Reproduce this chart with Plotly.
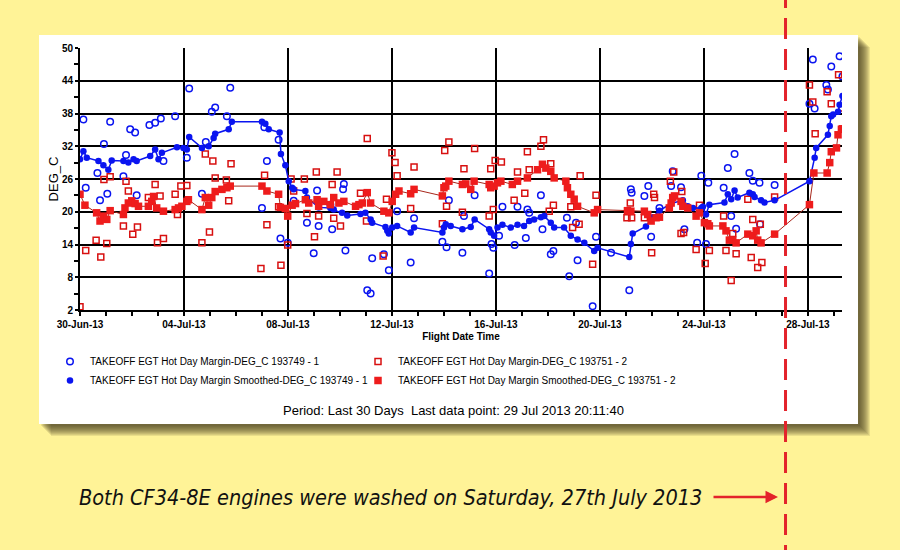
import pandas as pd
import plotly.graph_objects as go

# ---------------- data ----------------
# x values are days after 30-Jun-2013 00:00
base_date = "2013-06-30"
wash_day = 27.14  # engines washed (27 Jul 2013)

blue_raw_day = [0.13, 0.22, 0.67, 0.77, 0.92, 1.05, 1.16, 1.67, 1.77, 1.93, 2.12, 2.18, 2.67, 2.89, 3.11, 3.21,
                3.66, 4.11, 4.20, 4.69, 4.84, 5.07, 5.20, 5.65, 5.78, 7.00, 7.09, 7.19, 7.64, 7.71, 7.99, 8.22,
                8.73, 8.99, 9.12, 9.18, 9.63, 9.70, 10.12, 10.15, 10.21, 11.05, 11.18, 11.24, 11.69, 11.88, 12.20,
                12.72, 12.85, 13.94, 14.10, 14.19, 14.71, 14.77, 15.18, 15.74, 15.83, 15.90, 16.12, 16.25, 16.72,
                16.83, 17.15, 17.21, 17.28, 17.73, 17.79, 18.11, 18.21, 18.73, 18.82, 19.08, 19.14, 19.72, 19.85,
                20.43, 21.13, 21.19, 21.22, 21.71, 21.86, 21.97, 22.29, 22.74, 22.80, 23.12, 23.25, 23.74, 23.90,
                24.08, 24.17, 24.76, 24.92, 25.05, 25.18, 25.24, 25.75, 25.88, 26.14, 26.16, 26.72, 28.06, 28.19,
                28.26, 28.71, 28.77, 28.90, 29.22, 29.33]
blue_raw_val = [36.9, 24.4, 27.1, 22.1, 32.4, 23.3, 36.5, 26.5, 30.4, 35.1, 34.5, 23.0, 35.9, 36.3, 37.1, 29.3,
                37.5, 29.9, 42.6, 23.3, 32.8, 38.3, 39.1, 37.5, 42.7, 20.7, 35.5, 29.3, 33.2, 15.1, 14.3, 22.0,
                18.0, 12.4, 23.9, 17.4, 21.3, 16.8, 24.1, 25.1, 12.9, 5.6, 5.0, 11.5, 12.2, 9.3, 20.1,
                10.7, 18.8, 14.5, 13.5, 22.1, 12.5, 19.2, 23.0, 8.7, 14.1, 13.4, 15.6, 20.9, 13.9,
                20.9, 15.2, 20.4, 19.8, 23.0, 16.8, 12.2, 12.8, 18.9, 8.2, 18.0, 11.1, 2.7, 15.4,
                12.5, 5.6, 24.1, 23.5, 22.9, 24.7, 15.4, 20.7, 24.7, 27.4, 24.5, 16.8, 14.3, 26.6,
                14.1, 25.3, 24.4, 28.0, 19.2, 30.6, 16.9, 27.1, 25.7, 25.3, 17.7, 24.9, 39.8, 47.9,
                38.9, 43.2, 42.4, 46.6, 48.5, 44.8]

red_raw_day = [0.00, 0.22, 0.62, 0.80, 0.92, 1.03, 1.16, 1.67, 1.77, 1.86, 2.03, 2.21, 2.63, 2.89, 2.98, 3.08,
               3.21, 3.66, 3.75, 3.88, 4.11, 4.69, 4.82, 4.98, 5.11, 5.20, 5.63, 5.72, 5.81, 6.96, 7.10, 7.19,
               7.64, 7.73, 7.99, 8.12, 8.22, 8.63, 8.73, 9.02, 9.09, 9.18, 9.70, 9.76, 9.89, 10.02, 10.79, 11.02,
               11.05, 11.66, 11.79, 12.00, 12.12, 12.20, 12.72, 12.85, 13.94, 14.03, 14.10, 14.19, 14.71, 14.77,
               15.18, 15.74, 15.80, 15.90, 15.97, 16.21, 16.70, 16.83, 17.11, 17.21, 17.28, 17.73, 17.83, 18.05,
               18.11, 18.21, 18.88, 18.95, 19.20, 19.24, 19.72, 19.85, 21.04, 21.17, 21.22, 21.71, 21.99, 22.07,
               22.10, 22.71, 22.84, 23.12, 23.15, 23.22, 23.70, 23.83, 24.05, 24.21, 24.76, 24.85, 25.05, 25.11,
               25.24, 25.69, 25.82, 25.88, 26.07, 26.17, 26.23, 26.72, 28.06, 28.19, 28.28, 28.74, 28.90, 29.18,
               29.31]
red_raw_val = [2.6, 12.9, 14.8, 11.7, 25.9, 14.2, 26.4, 17.4, 25.6, 23.8, 15.9, 17.2, 22.6, 25.0, 14.3, 22.9,
               15.1, 23.2, 19.5, 24.7, 24.8, 14.3, 30.6, 16.3, 29.3, 26.2, 25.8, 22.0, 28.8, 9.6, 26.7, 17.6,
               20.9, 10.2, 13.9, 26.0, 23.8, 26.0, 19.7, 15.4, 27.3, 19.2, 25.0, 18.8, 27.3, 17.4, 23.4, 18.3,
               33.4, 11.9, 22.3, 30.8, 29.0, 26.6, 20.6, 28.2, 17.8, 31.2, 21.0, 32.8, 19.9, 27.9,
               31.6, 19.2, 27.9, 20.4, 29.4, 29.1, 22.1, 27.3, 23.4, 31.0, 27.7, 32.0, 33.2, 20.1,
               28.8, 21.2, 20.9, 17.1, 17.7, 26.6, 10.4, 23.0, 18.9, 21.6, 18.9, 18.9, 12.5, 23.2,
               22.6, 25.6, 27.3, 16.0, 23.7, 16.2, 13.1, 21.2, 10.5, 12.9, 19.2, 12.9, 7.4, 16.0,
               12.3, 22.3, 11.6, 18.6, 9.8, 17.7, 10.7, 22.7, 43.2, 40.1, 34.3, 42.0, 39.8, 45.1,
               39.0]

blue_smooth_day = [0.00, 0.13, 0.26, 0.71, 0.90, 1.09, 1.22, 1.67, 1.86, 2.06, 2.18, 2.70, 2.89, 3.02, 3.15, 3.73,
                   3.98, 4.11, 4.20, 4.69, 4.95, 5.14, 5.20, 5.72, 5.84, 7.00, 7.13, 7.26, 7.68, 7.73, 7.90, 8.03,
                   8.16, 8.22, 8.67, 8.73, 9.18, 9.63, 9.76, 10.08, 10.28, 10.79, 10.98, 11.18, 11.24, 11.75, 11.82,
                   11.88, 12.01, 12.20, 12.72, 12.85, 13.94, 14.00, 14.07, 14.26, 14.71, 15.03, 15.18, 15.74, 15.80,
                   15.93, 16.06, 16.25, 16.57, 16.83, 17.08, 17.28, 17.47, 17.73, 17.86, 18.11, 18.24, 18.62, 18.88,
                   19.14, 19.40, 19.78, 19.91, 21.13, 21.19, 21.26, 21.77, 22.03, 22.29, 22.74, 23.19, 23.38, 23.58,
                   23.90, 23.96, 24.08, 24.21, 24.79, 24.92, 25.05, 25.18, 25.30, 25.75, 25.88, 25.95, 26.20, 26.33,
                   26.72, 28.06, 28.26, 28.32, 28.77, 28.84, 28.90, 28.97, 29.16, 29.22, 29.33]
blue_smooth_val = [29.6, 31.1, 29.9, 29.3, 28.5, 27.7, 29.4, 29.3, 29.0, 29.6, 29.3, 30.2, 31.4, 29.6, 30.8, 31.8,
                   31.7, 31.4, 33.7, 31.7, 32.0, 33.5, 34.3, 35.1, 36.5, 36.5, 36.1, 35.1, 34.5, 30.6, 28.5, 25.6,
                   24.4, 24.1, 23.8, 22.6, 20.8, 20.7, 20.4, 19.8, 19.3, 19.6, 19.8, 18.6, 18.0, 17.2, 16.5,
                   16.0, 17.1, 17.4, 16.2, 17.1, 16.2, 17.1, 17.7, 17.4, 16.8, 17.2, 18.6, 16.8, 16.2,
                   15.6, 17.1, 17.6, 17.1, 17.6, 17.4, 18.3, 18.6, 19.0, 19.2, 18.0, 17.1, 17.1, 15.6,
                   14.9, 14.3, 12.8, 13.4, 11.7, 14.1, 16.0, 17.3, 19.0, 20.2, 21.5, 22.1, 21.0, 20.7,
                   20.7, 20.9, 19.5, 21.3, 21.7, 23.2, 22.3, 23.9, 22.6, 23.5, 23.2, 22.7, 22.1, 21.7,
                   22.1, 25.6, 29.9, 31.7, 34.1, 35.7, 37.5, 37.8, 38.3, 39.6, 41.2]

red_smooth_day = [0.00, 0.19, 0.64, 0.77, 0.90, 1.03, 1.16, 1.67, 1.73, 1.86, 1.99, 2.12, 2.25, 2.63, 2.76, 2.83,
                  2.95, 3.21, 3.66, 3.79, 3.92, 4.11, 4.17, 4.69, 4.82, 4.95, 5.07, 5.20, 5.46, 5.65, 5.78, 7.00,
                  7.19, 7.64, 7.71, 7.90, 7.99, 8.16, 8.29, 8.67, 8.80, 9.12, 9.18, 9.38, 9.63, 9.76, 9.96, 10.15,
                  10.60, 10.73, 10.86, 11.05, 11.18, 11.69, 11.88, 12.01, 12.14, 12.27, 12.72, 12.85, 13.94, 14.00,
                  14.07, 14.19, 14.71, 14.84, 15.03, 15.16, 15.74, 15.80, 15.93, 16.06, 16.19, 16.63, 16.83, 17.21,
                  17.60, 17.79, 17.92, 18.11, 18.24, 18.69, 18.75, 18.88, 19.01, 19.14, 19.78, 19.91, 21.06, 21.19,
                  21.71, 21.84, 21.97, 22.16, 22.29, 22.67, 22.74, 22.80, 22.87, 23.12, 23.19, 23.38, 23.70, 23.83,
                  24.02, 24.15, 24.21, 24.73, 24.85, 24.98, 25.11, 25.24, 25.69, 25.88, 26.01, 26.07, 26.20, 26.72,
                  28.06, 28.23, 28.74, 28.84, 28.90, 29.10, 29.16, 29.29, 29.33]
red_smooth_val = [23.2, 21.2, 19.8, 18.3, 19.2, 18.6, 20.2, 19.5, 20.7, 21.6, 22.0, 21.5, 21.0, 21.0, 21.9, 22.8,
                  20.7, 20.1, 20.4, 20.7, 21.0, 21.9, 22.2, 20.4, 22.6, 21.2, 22.6, 23.7, 24.1, 24.4, 24.7, 24.7,
                  23.8, 23.2, 20.8, 20.6, 19.2, 21.2, 21.5, 22.2, 21.6, 22.2, 21.0, 21.9, 21.3, 22.6, 21.6, 21.9,
                  21.0, 21.3, 21.6, 23.5, 21.6, 20.1, 19.8, 21.9, 23.2, 23.8, 23.3, 24.1, 22.9, 24.4,
                  24.7, 25.6, 25.0, 25.1, 24.1, 25.6, 25.0, 24.4, 24.7, 25.3, 25.6, 25.0, 25.6, 26.2,
                  27.7, 28.7, 28.0, 27.4, 26.2, 25.6, 24.4, 23.2, 22.3, 21.0, 19.8, 20.4, 20.2, 20.1,
                  20.1, 19.5, 18.3, 18.9, 19.0, 20.7, 21.6, 22.6, 22.9, 21.9, 21.0, 20.7, 19.2, 19.8,
                  18.0, 17.8, 17.4, 17.4, 16.5, 14.8, 14.8, 14.3, 15.9, 15.6, 16.5, 14.8, 14.3, 15.9,
                  21.3, 27.1, 27.1, 29.0, 31.0, 31.7, 34.1, 35.1, 35.2]

name_blue_raw = "TAKEOFF EGT Hot Day Margin-DEG_C 193749 - 1"
name_red_raw = "TAKEOFF EGT Hot Day Margin-DEG_C 193751 - 2"
name_blue_smooth = "TAKEOFF EGT Hot Day Margin Smoothed-DEG_C 193749 - 1"
name_red_smooth = "TAKEOFF EGT Hot Day Margin Smoothed-DEG_C 193751 - 2"

y_ticks = [2, 8, 14, 20, 26, 32, 38, 44, 50]
y_minor_ticks = [5, 11, 17, 23, 29, 35, 41, 47]

# ---------------- helpers ----------------
t0 = pd.Timestamp(base_date)


def to_dt(days):
    return [t0 + pd.to_timedelta(d, unit="D") for d in days]


# plot area in pixels (900 x 550 page)
L, R, T, B = 80, 842, 48, 310


def fx(px):
    return (px - L) / (R - L)


def fy(py):
    return (B - py) / (B - T)


FONT = "Liberation Sans, Arial, sans-serif"
BLUE = "#0a14f0"
RED = "#ee1c1c"

fig = go.Figure()

fig.add_trace(go.Scatter(x=to_dt(blue_raw_day), y=blue_raw_val, mode="markers", name=name_blue_raw,
                         legend="legend",
                         marker=dict(symbol="circle-open", size=6.5, color=BLUE, line=dict(width=1.5))))
fig.add_trace(go.Scatter(x=to_dt(red_raw_day), y=red_raw_val, mode="markers", name=name_red_raw,
                         legend="legend2",
                         marker=dict(symbol="square-open", size=6, color="#d81010", line=dict(width=1.5))))
fig.add_trace(go.Scatter(x=to_dt(blue_smooth_day), y=blue_smooth_val, mode="lines", showlegend=False,
                         line=dict(color=BLUE, width=1.5), hoverinfo="skip"))
fig.add_trace(go.Scatter(x=to_dt(red_smooth_day), y=red_smooth_val, mode="lines", showlegend=False,
                         line=dict(color="#a8281c", width=1), hoverinfo="skip"))
fig.add_trace(go.Scatter(x=to_dt(blue_smooth_day), y=blue_smooth_val, mode="markers", name=name_blue_smooth,
                         legend="legend",
                         marker=dict(symbol="circle", size=6.5, color=BLUE)))
fig.add_trace(go.Scatter(x=to_dt(red_smooth_day), y=red_smooth_val, mode="markers", name=name_red_smooth,
                         legend="legend2",
                         marker=dict(symbol="square", size=7.5, color=RED)))

# ---------------- decorations ----------------
shapes = []
# card shadow (stacked translucent rectangles)
for o in range(2, 13):
    shapes.append(dict(type="rect", xref="paper", yref="paper", layer="below",
                       x0=fx(39 + o), x1=fx(858 + o), y0=fy(424 + o), y1=fy(35 + o),
                       fillcolor="rgba(60,55,25,0.11)", line=dict(width=0)))
# white card
shapes.append(dict(type="rect", xref="paper", yref="paper", layer="below",
                   x0=fx(39), x1=fx(858), y0=fy(424), y1=fy(35),
                   fillcolor="white", line=dict(width=0)))
# wash line
wash_ts = t0 + pd.to_timedelta(wash_day, unit="D")
shapes.append(dict(type="line", xref="x", yref="paper", layer="above",
                   x0=wash_ts, x1=wash_ts, y0=fy(-13), y1=fy(552),
                   line=dict(color="#e3232b", width=3, dash="21px,10px")))

annotations = [
    dict(text="Period: Last 30 Days\u00a0\u00a0Last data point: 29 Jul 2013 20:11:40",
         xref="paper", yref="paper", x=fx(453), y=fy(410), xanchor="center", yanchor="middle",
         showarrow=False, font=dict(family=FONT, size=13, color="black")),
    dict(text="Both CF34-8E engines were washed on Saturday, 27th July 2013",
         xref="paper", yref="paper", x=fx(77), y=fy(497), xanchor="left", yanchor="middle", showarrow=False,
         font=dict(family="Liberation Sans Narrow, DejaVu Sans Condensed, Arial Narrow, sans-serif",
                   size=21.5, color="#111111", style="italic")),
    dict(text="", xref="paper", yref="paper", x=fx(778), y=fy(497), ax=-66, ay=0, showarrow=True,
         arrowhead=2, arrowsize=1, arrowwidth=2.5, arrowcolor="#e3232b"),
]

legend_common = dict(orientation="v", xanchor="left", yanchor="top", bgcolor="rgba(0,0,0,0)",
                     font=dict(family=FONT, size=10, color="black"), tracegroupgap=0)

fig.update_layout(
    width=900, height=550, autosize=False,
    margin=dict(l=L, r=900 - R, t=T, b=550 - B, pad=0),
    paper_bgcolor="#fff397", plot_bgcolor="white",
    font=dict(family=FONT, color="black"),
    shapes=shapes, annotations=annotations,
    showlegend=True,
    legend=dict(x=fx(50), y=fy(347), **legend_common),
    legend2=dict(x=fx(358), y=fy(347), **legend_common),
    xaxis=dict(type="date", range=["2013-06-30 00:00", "2013-07-29 07:30"],
               tick0="2013-06-30", dtick=4 * 86400000, tickformat="%d-%b-%y",
               showgrid=True, gridcolor="black", gridwidth=1.5,
               showline=True, linecolor="black", linewidth=2,
               ticks="outside", ticklen=4, tickwidth=1.5, tickcolor="black",
               tickfont=dict(family=FONT, size=10, weight="bold"),
               minor=dict(dtick=86400000, ticks="outside", ticklen=4, tickwidth=1.5, tickcolor="black",
                          showgrid=False),
               title=dict(text="Flight Date Time", font=dict(family=FONT, size=10, weight="bold"), standoff=4),
               zeroline=False),
    yaxis=dict(range=[2, 50], tickmode="array", tickvals=y_ticks,
               showgrid=True, gridcolor="black", gridwidth=2,
               showline=True, linecolor="black", linewidth=2,
               ticks="outside", ticklen=3, tickwidth=1.5, tickcolor="black",
               tickfont=dict(family=FONT, size=10, weight="bold"),
               minor=dict(tickvals=y_minor_ticks, ticks="outside", ticklen=4, tickwidth=1.5,
                          tickcolor="black", showgrid=False),
               title=dict(text="DEG_C", font=dict(family=FONT, size=13), standoff=0),
               zeroline=False),
)

fig.write_html("out.html", config={"displayModeBar": False},
               post_script="document.body.style.margin='0';document.body.style.overflow='hidden';")
